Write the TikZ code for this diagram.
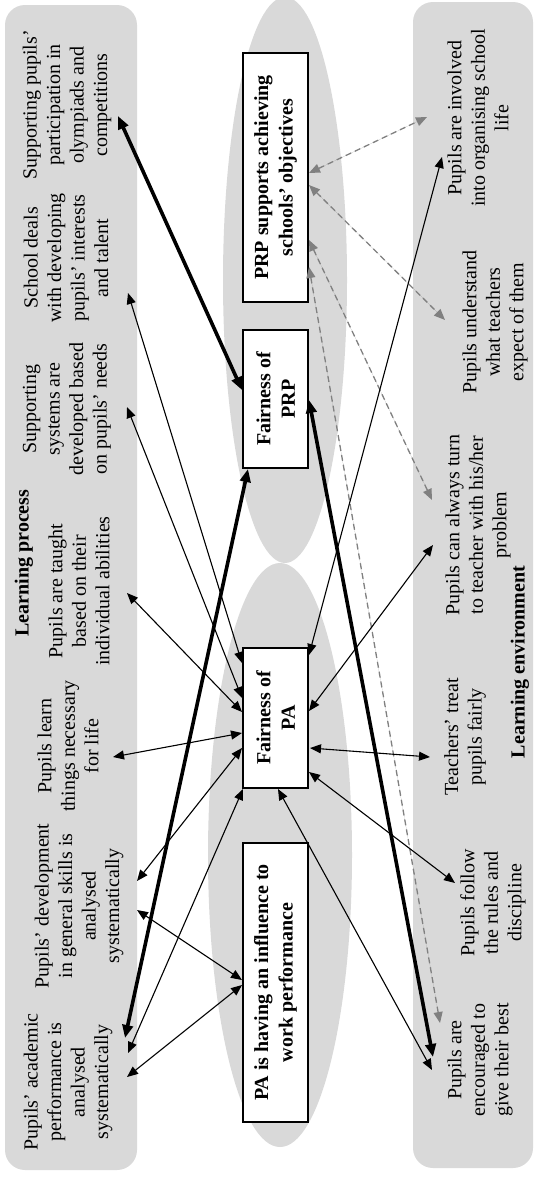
\documentclass[tikz,border=0pt]{standalone}
\usepackage{fontspec}
\setmainfont{Liberation Serif}
\usetikzlibrary{arrows.meta}
\definecolor{panelgrey}{RGB}{217,217,217}
\definecolor{dashgrey}{RGB}{128,128,128}
\begin{document}
\begin{tikzpicture}[x=1pt,y=-1pt,
  panel/.style={fill=panelgrey, draw=none, rounded corners=20pt},
  zone/.style={fill=panelgrey, draw=none},
  txt/.style={rotate=90, align=center, inner sep=0pt, font=\fontsize{20}{23.5}\selectfont},
  head/.style={rotate=90, align=center, inner sep=0pt, font=\fontsize{20}{23.5}\selectfont\bfseries},
  factor/.style={draw, line width=1.3pt, fill=white, rotate=90, align=center, inner sep=0pt, font=\fontsize{20}{24.5}\selectfont\bfseries},
  link/.style={{Triangle[length=11pt,width=9pt]}-{Triangle[length=11pt,width=9pt]}, line width=1.1pt},
  strong/.style={{Triangle[length=13pt,width=10.5pt]}-{Triangle[length=13pt,width=10.5pt]}, line width=3.6pt},
  weak/.style={{Triangle[length=11pt,width=9pt]}-{Triangle[length=11pt,width=9pt]}, line width=1.3pt, draw=dashgrey, fill=dashgrey, dash pattern=on 6pt off 4pt}
]
\path[use as bounding box] (0,0) rectangle (535,1183);
\begin{scope}
\clip (0,0) rectangle (535,1183);
% background groups
\fill[panel] (5,5) rectangle (137,1170);
\fill[panel] (413,2) rectangle (533,1168);
\fill[zone] (285,280) ellipse [x radius=62, y radius=283];
\fill[zone] (280,855) ellipse [x radius=72, y radius=292];
\end{scope}

% central factors
\node[factor, minimum width=249pt, minimum height=65pt] (prs) at (275.5,177.5) {PRP supports achieving\\schools’ objectives};
\node[factor, minimum width=138pt, minimum height=65pt] (prp) at (275.5,399) {Fairness of\\PRP};
\node[factor, minimum width=140pt, minimum height=65pt] (pa) at (275.5,718) {Fairness of\\PA};
\node[factor, minimum width=279pt, minimum height=65pt] (inf) at (275.5,982.5) {PA is having an influence to\\work performance};

% learning process items
\node[txt] (oly) at (67,105) {Supporting pupils’\\participation in\\olympiads and\\competitions};
\node[txt] (sch) at (66,258) {School deals\\with developing\\pupils’ interests\\and talent};
\node[txt] (sys) at (67,409) {Supporting\\systems are\\developed based\\on pupils’ needs};
\node[head] (lp) at (24,563) {Learning process};
\node[txt] (tau) at (79,591) {Pupils are taught\\based on their\\individual abilities};
\node[txt] (lrn) at (68,746) {Pupils learn\\things necessary\\for life};
\node[txt] (dev) at (79,906) {Pupils’ development\\in general skills is\\analysed\\systematically};
\node[txt] (aca) at (68,1082) {Pupils’ academic\\performance is\\analysed\\systematically};

% learning environment items
\node[txt] (inv) at (478,118) {Pupils are involved\\into organising school\\life};
\node[txt] (und) at (495,322) {Pupils understand\\what teachers\\expect of them};
\node[txt] (trn) at (478,525) {Pupils can always turn\\to teacher with his/her\\problem};
\node[head] (le) at (520,662) {Learning environment};
\node[txt] (trt) at (465,737) {Teachers’ treat\\pupils fairly};
\node[txt] (fol) at (493,903) {Pupils follow\\the rules and\\discipline};
\node[txt] (enc) at (480,1060) {Pupils are\\encouraged to\\give their best};

% attachment points
\coordinate (prpL) at (242,390);
\coordinate (prpB) at (248,469);
\coordinate (prpR) at (309,400);
\coordinate (olyE) at (118,116);
\coordinate (acaE1) at (125,1038);
\coordinate (encE1) at (433,1057);

\coordinate (paTR) at (309,655);
\coordinate (paR1) at (309,711);
\coordinate (paR2) at (310,748);
\coordinate (paR3) at (309,772);
\coordinate (paB1) at (243,789);
\coordinate (paB2) at (278,789);
\coordinate (paL1) at (242,663);
\coordinate (paL2) at (242,698);
\coordinate (paL3) at (242,712);
\coordinate (paL4) at (242,733);
\coordinate (paL5) at (242,748);
\coordinate (infL1) at (242,980);
\coordinate (infL2) at (242,985);

\coordinate (invE) at (442,157);
\coordinate (trnE) at (433,545);
\coordinate (trtE) at (430,757);
\coordinate (folE) at (455,883);
\coordinate (encE2) at (432,1070);
\coordinate (schE) at (128,293);
\coordinate (sysE) at (127,407);
\coordinate (tauE) at (127,593);
\coordinate (lrnE) at (113,757);
\coordinate (devE1) at (137,881);
\coordinate (devE2) at (137,910);
\coordinate (acaE2) at (128,1053);
\coordinate (acaE3) at (127,1077);

\coordinate (prsR1) at (309,173);
\coordinate (prsR2) at (309,185);
\coordinate (prsR3) at (309,240);
\coordinate (prsR4) at (309,267);
\coordinate (invD) at (427,117);
\coordinate (undD) at (445,320);
\coordinate (trnD) at (432,500);
\coordinate (encD) at (440,1023);

% dashed links of PRP supports achieving schools' objectives
\draw[weak] (prsR1) -- (invD);
\draw[weak] (prsR2) -- (undD);
\draw[weak] (prsR3) -- (trnD);
\draw[weak] (prsR4) -- (encD);

% links of fairness of PA
\draw[link] (paTR) -- (invE);
\draw[link] (paR1) -- (trnE);
\draw[link] (paR2) -- (trtE);
\draw[link] (paR3) -- (folE);
\draw[link] (paB2) -- (encE2);
\draw[link] (paL1) -- (schE);
\draw[link] (paL2) -- (sysE);
\draw[link] (paL3) -- (tauE);
\draw[link] (paL4) -- (lrnE);
\draw[link] (paL5) -- (devE1);
\draw[link] (paB1) -- (acaE2);

% links of PA influence
\draw[link] (infL1) -- (devE2);
\draw[link] (infL2) -- (acaE3);

% strong links of fairness of PRP
\draw[strong] (prpL) -- (olyE);
\draw[strong] (prpB) -- (acaE1);
\draw[strong] (prpR) -- (encE1);
\end{tikzpicture}
\end{document}
